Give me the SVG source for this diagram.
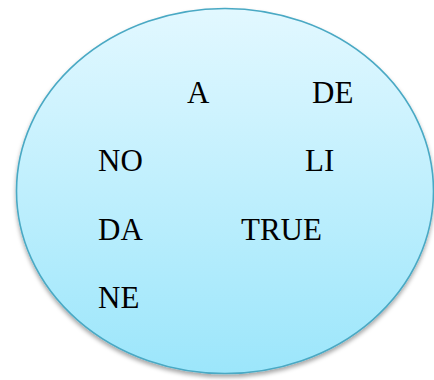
<svg xmlns="http://www.w3.org/2000/svg" width="434" height="380" viewBox="0 0 434 380">
<defs>
<linearGradient id="fill" x1="0" y1="0" x2="0" y2="1">
<stop offset="0" stop-color="#e2f8ff"/>
<stop offset="1" stop-color="#9ce6fb"/>
</linearGradient>
<filter id="sh" x="-10%" y="-10%" width="120%" height="120%">
<feDropShadow dx="0" dy="3" stdDeviation="2" flood-color="#000" flood-opacity="0.35"/>
</filter>
</defs>
<style>
text { font-family: "Liberation Serif", "Times New Roman", serif; font-size: 31px; fill: #000; }
</style>
<g id="ellipse">
<ellipse cx="225" cy="191" rx="208.5" ry="182.5" fill="url(#fill)" stroke="#4aa9c4" stroke-width="1.6" filter="url(#sh)"/>
</g>
<g id="connectors"></g>
<g id="n-A"><text x="187" y="103">A</text></g>
<g id="n-DE"><text x="312" y="103">DE</text></g>
<g id="n-NO"><text x="98" y="171">NO</text></g>
<g id="n-LI"><text x="305" y="171">LI</text></g>
<g id="n-DA"><text x="98" y="240">DA</text></g>
<g id="n-TRUE"><text x="241" y="240">TRUE</text></g>
<g id="n-NE"><text x="98" y="308">NE</text></g>
</svg>
